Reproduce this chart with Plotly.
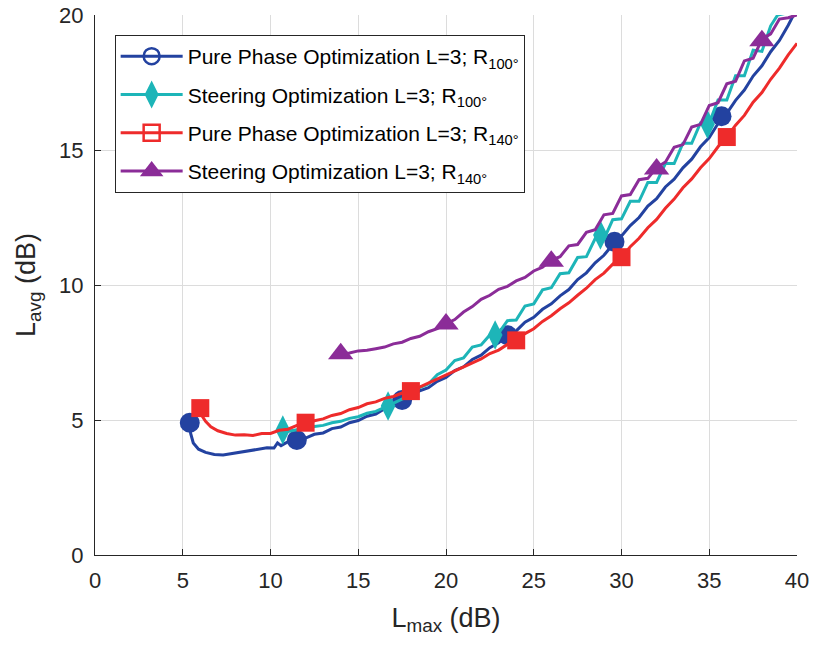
import plotly.graph_objects as go

# ---------------- data ----------------
# Pure Phase Optimization L=3; R100
blue_x = [5.4, 5.45, 5.6, 5.9, 6.3, 6.8, 7.3, 7.8, 8.3, 8.8, 9.3, 9.8, 10.2, 10.4, 10.6, 11.0, 11.5,
          12.0, 12.5, 13.0, 13.5, 14.0, 14.5, 15.0, 15.5, 16.0, 16.5, 17.0, 17.5, 18.0, 18.5, 19.0, 19.5,
          20.0, 20.5, 21.0, 21.5, 22.0, 22.5, 23.0, 23.5, 24.0, 24.5, 25.0, 25.5, 26.0, 26.5, 27.0, 27.5,
          28.0, 28.5, 29.0, 29.5, 30.0, 30.5, 31.0, 31.5, 32.0, 32.5, 33.0, 33.5, 34.0, 34.5, 35.0, 35.5,
          36.0, 36.5, 37.0, 37.5, 38.0, 38.5, 39.0, 39.5, 39.8]
blue_y = [4.9, 4.5, 4.15, 3.92, 3.8, 3.72, 3.7, 3.75, 3.8, 3.85, 3.9, 3.97, 3.96, 4.15, 4.05, 4.2, 4.26,
          4.33, 4.47, 4.52, 4.68, 4.74, 4.9, 4.98, 5.14, 5.22, 5.42, 5.53, 5.74, 5.86, 6.08, 6.2, 6.43,
          6.58, 6.83, 6.97, 7.24, 7.4, 7.68, 7.86, 8.14, 8.3, 8.62, 8.8, 9.1, 9.3, 9.6, 9.83, 10.2,
          10.45, 10.82, 11.1, 11.5, 11.82, 12.2, 12.5, 12.92, 13.2, 13.63, 13.92, 14.34, 14.66, 15.12, 15.46, 15.98,
          16.36, 16.84, 17.22, 17.74, 18.12, 18.64, 19.06, 19.62, 20.0]
blue_mx = [5.4, 11.5, 17.5, 23.5, 29.6, 35.7]
blue_my = [4.9, 4.26, 5.74, 8.14, 11.6, 16.25]

# Steering Optimization L=3; R100
cyan_x = [10.7, 11.0, 11.5, 12.0, 12.5, 13.0, 13.5, 14.0, 14.5, 15.0, 15.5, 16.0, 16.5, 17.0, 17.5,
          18.0, 18.5, 19.0, 19.5, 20.0, 20.5, 21.0, 21.5, 22.0, 22.5, 23.0, 23.5, 24.0, 24.5, 25.0,
          25.5, 26.0, 26.5, 27.0, 27.5, 28.0, 28.5, 29.0, 29.5, 30.0, 30.5, 31.0, 31.5, 32.0, 32.5,
          33.0, 33.5, 34.0, 34.5, 35.0, 35.5, 36.0, 36.5, 37.0, 37.5, 38.0, 38.5, 38.9, 39.3]
cyan_y = [4.63, 4.58, 4.64, 4.68, 4.76, 4.8, 4.9, 4.95, 5.06, 5.12, 5.25, 5.32, 5.47, 5.62, 5.8,
          5.93, 6.2, 6.33, 6.68, 6.85, 7.2, 7.3, 7.7, 7.78, 8.15, 8.22, 8.68, 8.7, 9.22, 9.3,
          9.82, 9.9, 10.42, 10.45, 11.02, 11.05, 11.72, 11.7, 12.42, 12.45, 13.1, 13.1, 13.8, 13.8, 14.5,
          14.5, 15.25, 15.25, 16.0, 16.0, 16.85, 16.85, 17.75, 17.75, 18.7, 18.65, 19.6, 20.0, 20.05]
cyan_mx = [10.7, 16.7, 22.8, 28.8, 34.9]
cyan_my = [4.63, 5.52, 8.15, 11.85, 15.95]

# Pure Phase Optimization L=3; R140
red_x = [6.0, 6.1, 6.3, 6.6, 7.0, 7.5, 8.0, 8.5, 9.0, 9.5, 10.0, 10.5, 11.0, 11.5, 12.0, 12.5, 13.0,
         13.5, 14.0, 14.5, 15.0, 15.5, 16.0, 16.5, 17.0, 17.5, 18.0, 18.5, 19.0, 19.5, 20.0, 20.5,
         21.0, 21.5, 22.0, 22.5, 23.0, 23.5, 24.0, 24.5, 25.0, 25.5, 26.0, 26.5, 27.0, 27.5, 28.0,
         28.5, 29.0, 29.5, 30.0, 30.5, 31.0, 31.5, 32.0, 32.5, 33.0, 33.5, 34.0, 34.5, 35.0, 35.5,
         36.0, 36.5, 37.0, 37.5, 38.0, 38.5, 39.0, 39.5, 40.0]
red_y = [5.44, 5.15, 4.95, 4.75, 4.6, 4.5, 4.44, 4.45, 4.43, 4.5, 4.5, 4.62, 4.66, 4.8, 4.86, 4.97, 5.04,
         5.17, 5.24, 5.38, 5.46, 5.6, 5.67, 5.8, 5.87, 6.0, 6.07, 6.22, 6.34, 6.52, 6.64, 6.82,
         6.94, 7.12, 7.26, 7.46, 7.59, 7.8, 7.95, 8.2, 8.38, 8.65, 8.86, 9.12, 9.34, 9.62, 9.88,
         10.2, 10.44, 10.77, 11.03, 11.42, 11.73, 12.12, 12.43, 12.84, 13.18, 13.6, 13.93, 14.34, 14.68, 15.12,
         15.48, 15.92, 16.28, 16.77, 17.13, 17.62, 18.03, 18.52, 18.95]
red_mx = [6.0, 12.0, 18.0, 24.0, 30.0, 36.0]
red_my = [5.44, 4.9, 6.07, 7.95, 11.03, 15.48]

# Steering Optimization L=3; R140
purple_x = [14.0, 14.5, 15.0, 15.5, 16.0, 16.5, 17.0, 17.5, 18.0, 18.5, 19.0, 19.5, 20.0, 20.5, 21.0,
            21.5, 22.0, 22.5, 23.0, 23.5, 24.0, 24.5, 25.0, 25.5, 26.0, 26.5, 27.0, 27.5, 28.0, 28.5,
            29.0, 29.5, 30.0, 30.5, 31.0, 31.5, 32.0, 32.5, 33.0, 33.5, 34.0, 34.5, 35.0, 35.5, 36.0,
            36.5, 37.0, 37.5, 38.0, 38.5, 39.0, 39.5, 40.0]
purple_y = [7.45, 7.48, 7.56, 7.58, 7.64, 7.7, 7.82, 7.88, 8.02, 8.1, 8.27, 8.38, 8.56, 8.72, 9.0,
            9.2, 9.47, 9.62, 9.84, 9.95, 10.15, 10.28, 10.52, 10.66, 10.92, 11.05, 11.45, 11.5, 11.95, 12.05,
            12.6, 12.65, 13.3, 13.35, 13.9, 13.95, 14.35, 14.55, 15.1, 15.2, 15.85, 15.95, 16.65, 16.75, 17.45,
            17.55, 18.3, 18.4, 19.1, 19.3, 19.85, 19.9, 20.0]
purple_mx = [14.0, 20.0, 26.0, 32.0, 38.0]
purple_my = [7.45, 8.56, 10.88, 14.3, 19.05]

x_ticks = [0, 5, 10, 15, 20, 25, 30, 35, 40]
y_ticks = [0, 5, 10, 15, 20]

series = [
    ("Pure Phase Optimization L=3; R<sub>100°</sub>", blue_x, blue_y, blue_mx, blue_my,
     "#2342A0", "circle", "circle-open", 20),
    ("Steering Optimization L=3; R<sub>100°</sub>", cyan_x, cyan_y, cyan_mx, cyan_my,
     "#1DB5B8", "diamond-tall", "diamond-tall", 21),
    ("Pure Phase Optimization L=3; R<sub>140°</sub>", red_x, red_y, red_mx, red_my,
     "#EE2B2B", "square", "square-open", 18),
    ("Steering Optimization L=3; R<sub>140°</sub>", purple_x, purple_y, purple_mx, purple_my,
     "#8B2C98", "triangle-up", "triangle-up", 22),
]

FONT = "Liberation Sans, Arial, sans-serif"
fig = go.Figure()
for i, (name, x, y, mx, my, col, sym, lsym, ms) in enumerate(series):
    fig.add_trace(go.Scatter(x=x, y=y, mode="lines", line=dict(color=col, width=3),
                             showlegend=False, hoverinfo="skip"))
    fig.add_trace(go.Scatter(x=mx, y=my, mode="markers",
                             marker=dict(symbol=sym, size=ms, color=col, line=dict(width=0)),
                             showlegend=False, cliponaxis=False))
    fig.add_trace(go.Scatter(x=[None], y=[None], mode="lines+markers", name=name,
                             legendgroup="g%d" % i,
                             line=dict(color=col, width=3),
                             marker=dict(symbol=lsym, size=16, color=col,
                                         line=dict(color=col, width=2.5))))

axis_common = dict(
    showgrid=True, gridcolor="#DCDCDC", gridwidth=1,
    showline=True, linecolor="#262626", linewidth=1, mirror=False,
    ticks="inside", ticklen=6, tickcolor="#262626", tickwidth=1,
    tickfont=dict(family=FONT, size=22, color="#262626"),
    zeroline=False, automargin=False,
)

fig.update_layout(
    width=814, height=645,
    margin=dict(l=95, r=17, t=15, b=90),
    paper_bgcolor="white", plot_bgcolor="white",
    font=dict(family=FONT, color="#262626"),
    xaxis=dict(range=[0, 40], tickvals=x_ticks, ticktext=[str(v) for v in x_ticks],
               ticklabelstandoff=6,
               title=dict(text="L<sub>max</sub> (dB)", font=dict(family=FONT, size=27, color="#262626")),
               **axis_common),
    yaxis=dict(range=[0, 20], tickvals=y_ticks, ticktext=[str(v) for v in y_ticks],
               ticklabelstandoff=6,
               title=dict(text="L<sub>avg</sub> (dB)", font=dict(family=FONT, size=27, color="#262626")),
               **axis_common),
    legend=dict(x=0.028, y=0.963, xanchor="left", yanchor="top",
                bgcolor="white", bordercolor="#262626", borderwidth=1,
                font=dict(family=FONT, size=21, color="#000000"),
                itemwidth=62, tracegroupgap=8),
)

fig.write_html("out.html")
